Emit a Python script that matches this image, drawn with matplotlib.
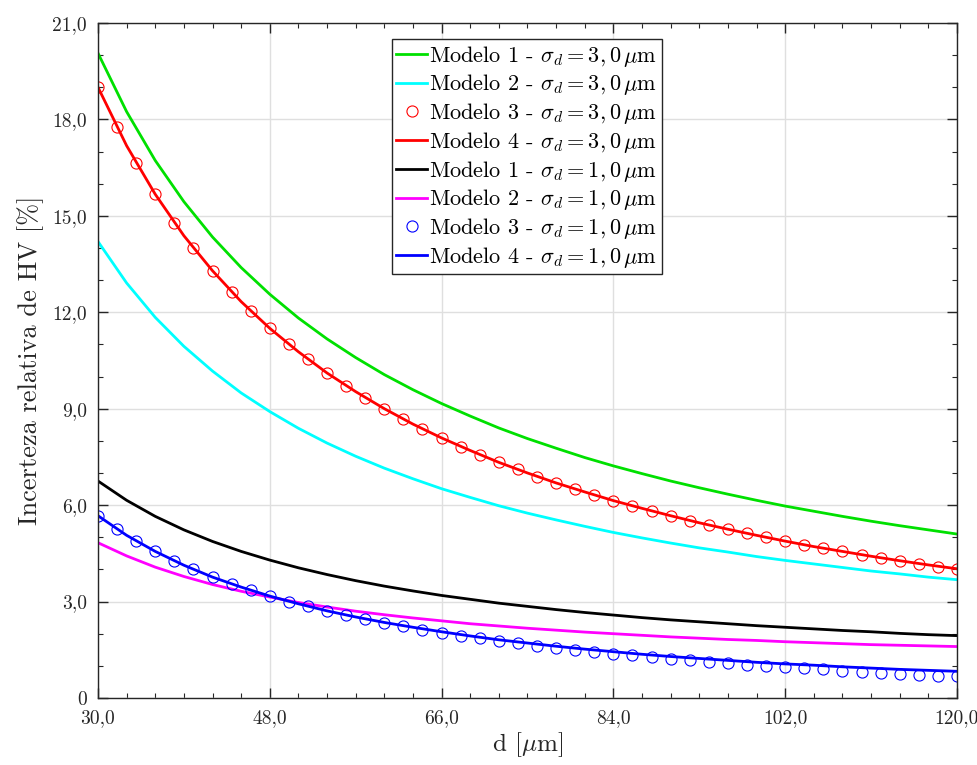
import matplotlib
matplotlib.use("Agg")
import matplotlib.pyplot as plt
from matplotlib.ticker import MultipleLocator

# --- fonts: LaTeX look ---
plt.rcParams['font.family'] = 'serif'
plt.rcParams['font.serif'] = ['cmr10']
plt.rcParams['mathtext.fontset'] = 'cm'
plt.rcParams['axes.unicode_minus'] = False
plt.rcParams['axes.formatter.use_mathtext'] = True

# --- DATA ---
# lines: d every 3 um
d_line = [30, 33, 36, 39, 42, 45, 48, 51, 54, 57, 60, 63, 66, 69, 72, 75,
          78, 81, 84, 87, 90, 93, 96, 99, 102, 105, 108, 111, 114, 117, 120]
# markers: d every 2 um
d_mark = [30, 32, 34, 36, 38, 40, 42, 44, 46, 48, 50, 52, 54, 56, 58, 60,
          62, 64, 66, 68, 70, 72, 74, 76, 78, 80, 82, 84, 86, 88, 90, 92,
          94, 96, 98, 100, 102, 104, 106, 108, 110, 112, 114, 116, 118, 120]

m1_s3 = [20.06, 18.24, 16.72, 15.44, 14.34, 13.39, 12.56, 11.82, 11.17, 10.59,
         10.06, 9.59, 9.16, 8.77, 8.40, 8.07, 7.77, 7.48, 7.22, 6.98, 6.75,
         6.54, 6.34, 6.15, 5.97, 5.81, 5.65, 5.50, 5.36, 5.23, 5.10]
m2_s3 = [14.20, 12.91, 11.84, 10.94, 10.17, 9.49, 8.91, 8.39, 7.93, 7.52,
         7.15, 6.82, 6.51, 6.24, 5.98, 5.75, 5.54, 5.34, 5.15, 4.98, 4.82,
         4.67, 4.54, 4.40, 4.28, 4.17, 4.06, 3.95, 3.86, 3.76, 3.68]
m3_s3 = [19.00, 17.75, 16.65, 15.67, 14.79, 14.00, 13.29, 12.64, 12.04, 11.50,
         11.00, 10.54, 10.11, 9.71, 9.34, 9.00, 8.68, 8.38, 8.09, 7.82, 7.57,
         7.33, 7.11, 6.89, 6.69, 6.50, 6.32, 6.14, 5.98, 5.82, 5.67, 5.52,
         5.38, 5.25, 5.12, 5.00, 4.88, 4.77, 4.66, 4.56, 4.45, 4.36, 4.26,
         4.17, 4.08, 4.00]
m4_s3 = [19.00, 17.18, 15.67, 14.38, 13.29, 12.33, 11.50, 10.77, 10.11, 9.53,
         9.00, 8.52, 8.09, 7.70, 7.33, 7.00, 6.69, 6.41, 6.14, 5.90, 5.67,
         5.45, 5.25, 5.06, 4.88, 4.71, 4.56, 4.41, 4.27, 4.14, 4.02]
m1_s1 = [6.75, 6.15, 5.65, 5.23, 4.87, 4.56, 4.29, 4.05, 3.84, 3.65, 3.48,
         3.33, 3.19, 3.07, 2.95, 2.85, 2.75, 2.66, 2.58, 2.50, 2.43, 2.37,
         2.31, 2.25, 2.20, 2.15, 2.10, 2.06, 2.01, 1.97, 1.94]
m2_s1 = [4.83, 4.42, 4.07, 3.78, 3.53, 3.32, 3.14, 2.97, 2.83, 2.70, 2.59,
         2.49, 2.40, 2.31, 2.24, 2.17, 2.11, 2.05, 2.00, 1.95, 1.90, 1.86,
         1.82, 1.79, 1.75, 1.72, 1.69, 1.66, 1.64, 1.62, 1.60]
m3_s1 = [5.67, 5.25, 4.88, 4.56, 4.26, 4.00, 3.76, 3.55, 3.35, 3.17, 3.00,
         2.85, 2.70, 2.57, 2.45, 2.33, 2.23, 2.13, 2.03, 1.94, 1.86, 1.78,
         1.70, 1.63, 1.56, 1.50, 1.44, 1.38, 1.33, 1.27, 1.22, 1.17, 1.13,
         1.08, 1.04, 1.00, 0.96, 0.92, 0.89, 0.85, 0.82, 0.79, 0.75, 0.72,
         0.69, 0.67]
m4_s1 = [5.67, 5.06, 4.56, 4.13, 3.76, 3.45, 3.17, 2.93, 2.71, 2.52, 2.35,
         2.20, 2.06, 1.93, 1.81, 1.71, 1.61, 1.52, 1.44, 1.36, 1.29, 1.23,
         1.17, 1.11, 1.06, 1.02, 0.97, 0.93, 0.89, 0.86, 0.83]

x_ticks = [30, 48, 66, 84, 102, 120]
x_ticklabels = ["30,0", "48,0", "66,0", "84,0", "102,0", "120,0"]
y_ticks = [0, 3, 6, 9, 12, 15, 18, 21]
y_ticklabels = ["0", "3,0", "6,0", "9,0", "12,0", "15,0", "18,0", "21,0"]

# --- PLOT ---
fig = plt.figure(figsize=(9.78, 7.65), dpi=100)
ax = fig.add_axes([0.1002, 0.0876, 0.8783, 0.8824])

lw = 2.0
ms = 8
ax.plot(d_line, m1_s3, color='#00e000', lw=lw, label=r'Modelo 1 - $\sigma_d = 3,0\,\mu$m')
ax.plot(d_line, m2_s3, color='#00ffff', lw=lw, label=r'Modelo 2 - $\sigma_d = 3,0\,\mu$m')
ax.plot(d_mark, m3_s3, ls='none', marker='o', ms=ms, mfc='none', mec='#ff0000', mew=0.8,
        label=r'Modelo 3 - $\sigma_d = 3,0\,\mu$m')
ax.plot(d_line, m4_s3, color='#ff0000', lw=lw, label=r'Modelo 4 - $\sigma_d = 3,0\,\mu$m')
ax.plot(d_line, m1_s1, color='black', lw=lw, label=r'Modelo 1 - $\sigma_d = 1,0\,\mu$m')
ax.plot(d_line, m2_s1, color='#ff00ff', lw=lw, label=r'Modelo 2 - $\sigma_d = 1,0\,\mu$m')
ax.plot(d_mark, m3_s1, ls='none', marker='o', ms=ms, mfc='none', mec='#0000ff', mew=0.8,
        label=r'Modelo 3 - $\sigma_d = 1,0\,\mu$m')
ax.plot(d_line, m4_s1, color='#0000ff', lw=lw, label=r'Modelo 4 - $\sigma_d = 1,0\,\mu$m')

# --- GRAPH FORMATTING ---
ax.set_xlim(30, 120)
ax.set_ylim(0, 21)
ax.set_xticks(x_ticks)
ax.set_xticklabels(x_ticklabels)
ax.set_yticks(y_ticks)
ax.set_yticklabels(y_ticklabels)
ax.xaxis.set_minor_locator(MultipleLocator(3))
ax.yaxis.set_minor_locator(MultipleLocator(1))
ax.tick_params(which='both', direction='in', top=True, right=True,
               colors='#262626', labelsize=14, pad=8)
ax.tick_params(which='major', length=7, width=1)
ax.tick_params(which='minor', length=3.5, width=0.8)
for s in ax.spines.values():
    s.set_color('#262626')
    s.set_linewidth(1.0)
ax.grid(which='major', color='#dfdfdf', lw=1.0)
ax.set_axisbelow(True)

ax.set_xlabel(r'd [$\mu$m]', fontsize=18, color='#262626', labelpad=2)
ax.set_ylabel('Incerteza relativa de HV [%]', fontsize=19, color='#262626', labelpad=6)

leg = ax.legend(loc='upper center', bbox_to_anchor=(0.499, 0.976), borderaxespad=0,
                fontsize=16, frameon=True, fancybox=False, edgecolor='#262626',
                handlelength=1.4, handletextpad=0.1, labelspacing=0.17,
                borderpad=0.2, framealpha=1)
leg.get_frame().set_linewidth(1.0)

fig.savefig("out.png", dpi=100)
